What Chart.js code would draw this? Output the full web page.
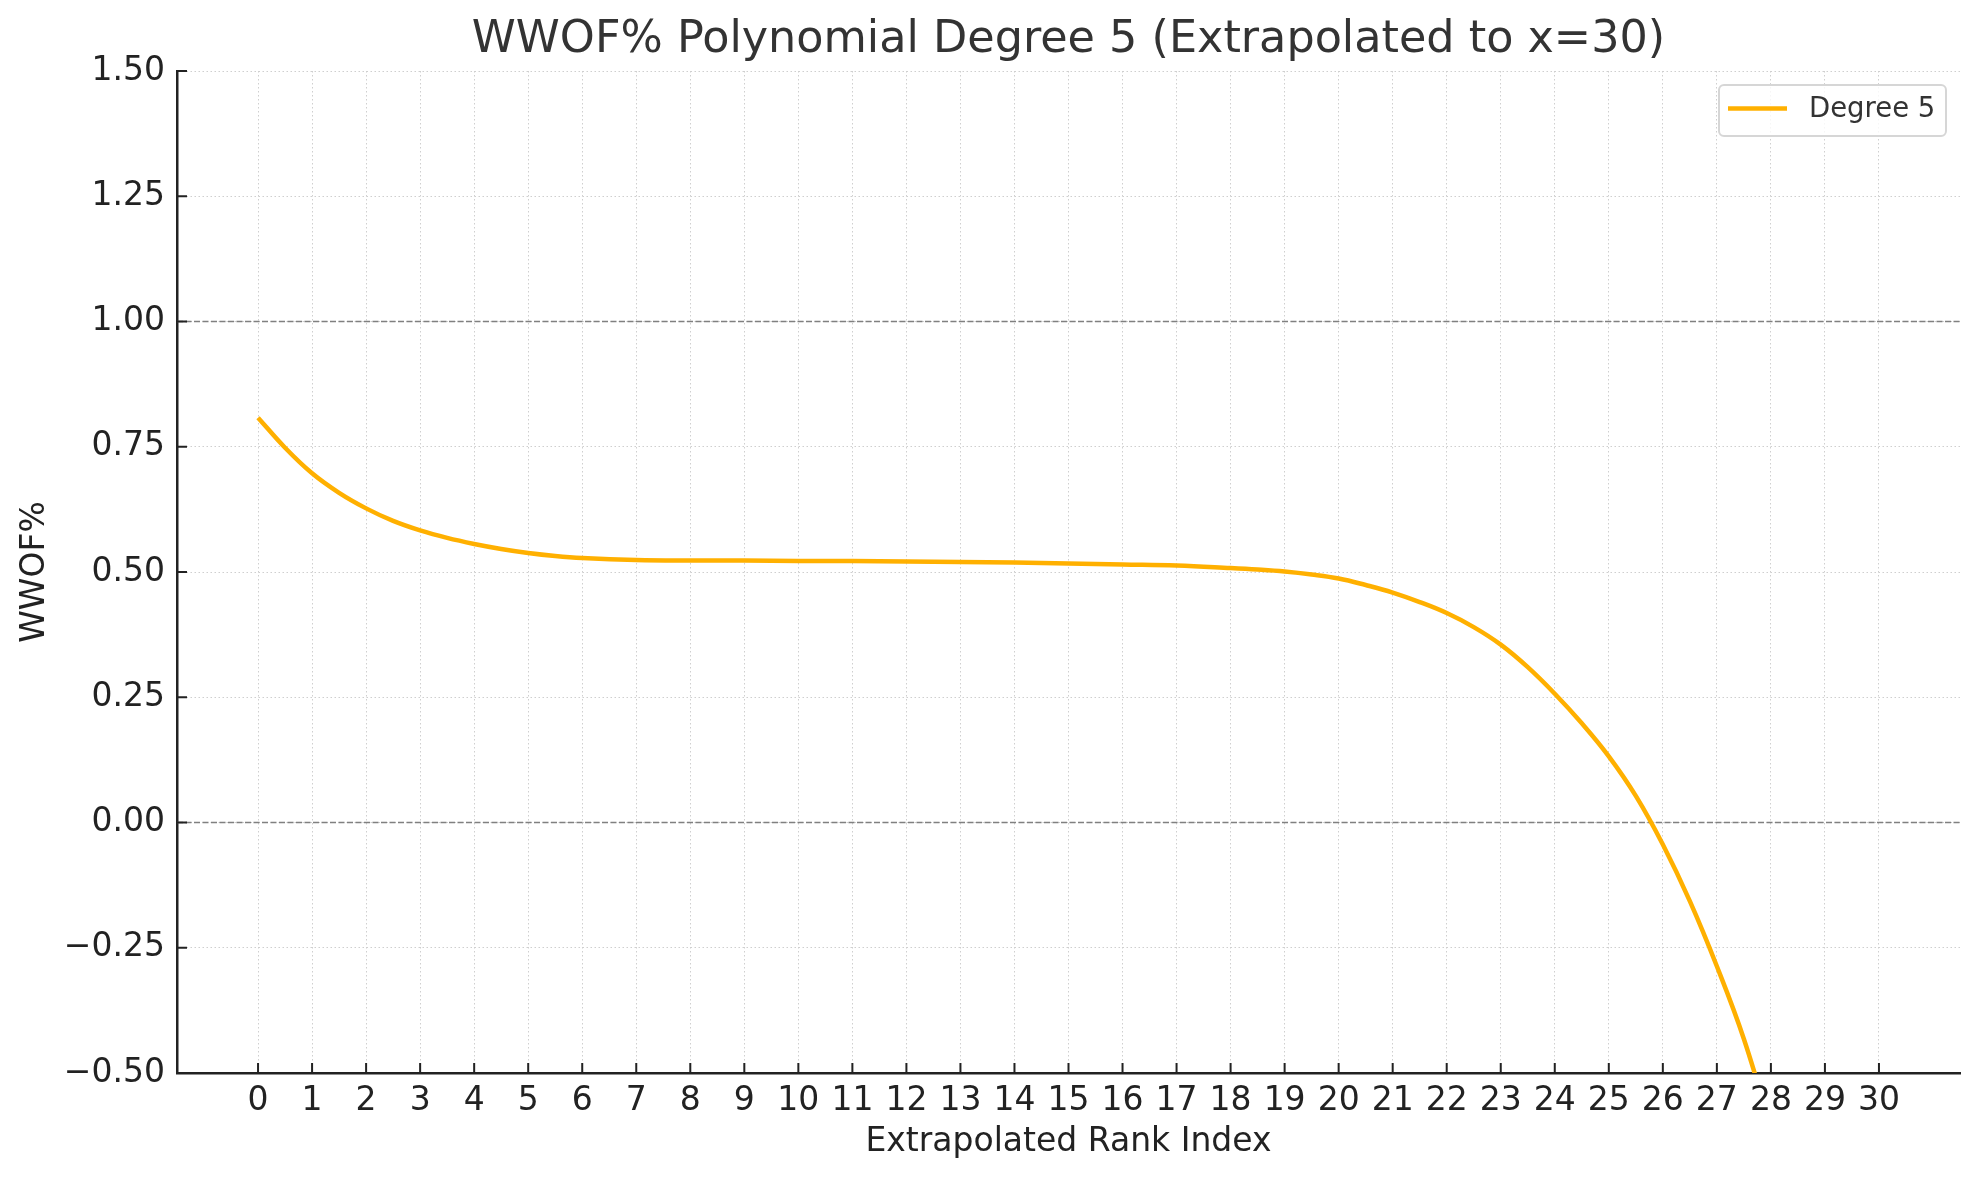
<!DOCTYPE html>
<html>
<head>
<meta charset="utf-8">
<title>WWOF% Polynomial Degree 5</title>
<script src="https://cdn.jsdelivr.net/npm/chart.js@4.4.1/dist/chart.umd.min.js"></script>
<style>
  html, body { margin: 0; padding: 0; background: #fff; }
  #wrap { width: 1979px; height: 1180px; }
</style>
</head>
<body>
<div id="wrap"><canvas id="chart" width="1979" height="1180"></canvas></div>
<script>
// values
const rankIndex = [0, 0.5, 1, 1.5, 2, 2.5, 3, 3.5, 4, 4.5, 5, 5.5, 6, 7, 8, 9, 10, 11, 12, 13, 14, 15, 16, 17,
  18, 18.5, 19, 19.5, 20, 20.5, 21, 21.5, 22, 22.5, 23, 23.5, 24, 24.5, 25, 25.5, 26, 26.5, 27, 27.5, 28];
const wwofDegree5 = [0.808, 0.748, 0.697, 0.658, 0.627, 0.602, 0.583, 0.568, 0.556, 0.546, 0.538, 0.532, 0.528,
  0.524, 0.523, 0.523, 0.522, 0.522, 0.521, 0.520, 0.519, 0.517, 0.515, 0.513,
  0.508, 0.505, 0.501, 0.495, 0.487, 0.474, 0.459, 0.440, 0.418, 0.390, 0.355, 0.310,
  0.257, 0.198, 0.132, 0.053, -0.044, -0.157, -0.287, -0.432, -0.610];
const refLevels = [1.0, 0.0];
const xTicks = [0, 1, 2, 3, 4, 5, 6, 7, 8, 9, 10, 11, 12, 13, 14, 15, 16, 17, 18, 19, 20,
  21, 22, 23, 24, 25, 26, 27, 28, 29, 30];
const yTicks = [-0.5, -0.25, 0, 0.25, 0.5, 0.75, 1.0, 1.25, 1.5];
const xRange = [-1.5, 31.5];
const yRange = [-0.5, 1.5];

const TITLE = 'WWOF% Polynomial Degree 5 (Extrapolated to x=30)';
const SERIES = 'Degree 5';
const FONT = "'DejaVu Sans', sans-serif";
const LINE_COLOR = '#ffb000';
const INK = '#222';

const curve = rankIndex.map((x, i) => ({ x, y: wwofDegree5[i] }));

const refSets = refLevels.map(v => ({
  label: 'ref ' + v,
  data: xRange.map(x => ({ x, y: v })),
  borderColor: '#808080',
  borderWidth: 1.6,
  borderDash: [6, 2.5],
  pointRadius: 0,
  fill: false,
  clip: 0
}));

// matplotlib style ticks pointing into the plot
const innerTicks = {
  id: 'innerTicks',
  afterDatasetsDraw(chart) {
    const { ctx, chartArea, scales } = chart;
    ctx.save();
    ctx.strokeStyle = INK;
    ctx.lineWidth = 2;
    ctx.beginPath();
    scales.x.ticks.forEach(t => {
      const px = scales.x.getPixelForValue(t.value);
      ctx.moveTo(px, chartArea.bottom);
      ctx.lineTo(px, chartArea.bottom - 10);
    });
    scales.y.ticks.forEach(t => {
      const py = scales.y.getPixelForValue(t.value);
      ctx.moveTo(chartArea.left, py);
      ctx.lineTo(chartArea.left + 10, py);
    });
    ctx.stroke();
    ctx.restore();
  }
};

// title centred over the axes, legend box in the upper right corner
const frameText = {
  id: 'frameText',
  afterDraw(chart) {
    const { ctx, chartArea } = chart;
    ctx.save();
    ctx.fillStyle = '#333';
    ctx.font = '44.5px ' + FONT;
    ctx.textAlign = 'center';
    ctx.textBaseline = 'middle';
    ctx.fillText(TITLE, (chartArea.left + chartArea.right) / 2, 40);

    const bx = chartArea.right - 241, by = chartArea.top + 14, bw = 227, bh = 51;
    ctx.fillStyle = 'rgba(255,255,255,0.8)';
    ctx.strokeStyle = '#d6d6d6';
    ctx.lineWidth = 2;
    ctx.beginPath();
    ctx.roundRect(bx, by, bw, bh, 5);
    ctx.fill();
    ctx.stroke();

    const cy = by + bh / 2 - 2;
    ctx.strokeStyle = LINE_COLOR;
    ctx.lineWidth = 4.5;
    ctx.beginPath();
    ctx.moveTo(bx + 9, cy);
    ctx.lineTo(bx + 68, cy);
    ctx.stroke();

    ctx.fillStyle = '#333';
    ctx.font = '27.5px ' + FONT;
    ctx.textAlign = 'left';
    ctx.fillText(SERIES, bx + 90, cy + 1);
    ctx.restore();
  }
};

new Chart(document.getElementById('chart'), {
  type: 'line',
  data: {
    datasets: [{
      label: SERIES,
      data: curve,
      borderColor: LINE_COLOR,
      backgroundColor: LINE_COLOR,
      borderWidth: 4.5,
      pointRadius: 0,
      tension: 0.4,
      fill: false,
      clip: 0
    }, ...refSets]
  },
  options: {
    responsive: false,
    devicePixelRatio: 1,
    animation: false,
    layout: { padding: { left: 0, right: 19, top: 71, bottom: 0 } },
    plugins: {
      tooltip: { enabled: false },
      title: { display: false },
      legend: { display: false }
    },
    scales: {
      x: {
        type: 'linear',
        min: xRange[0],
        max: xRange[1],
        afterFit: s => { s.height = 107; },
        afterBuildTicks: s => { s.ticks = xTicks.map(v => ({ value: v })); },
        ticks: {
          autoSkip: false,
          maxRotation: 0,
          padding: 9,
          color: INK,
          font: { family: FONT, size: 33 },
          callback: v => String(v)
        },
        grid: { color: '#cfcfcf', lineWidth: 1, drawTicks: false },
        border: { color: INK, width: 2.5, dash: [1.5, 2.5] },
        title: {
          display: true,
          text: 'Extrapolated Rank Index',
          color: INK,
          font: { family: FONT, size: 33 },
          padding: { top: 0, bottom: 18 }
        }
      },
      y: {
        type: 'linear',
        min: yRange[0],
        max: yRange[1],
        afterFit: s => { s.width = 177; },
        afterBuildTicks: s => { s.ticks = yTicks.map(v => ({ value: v })); },
        ticks: {
          padding: 12,
          color: INK,
          font: { family: FONT, size: 33 },
          callback: v => v.toFixed(2).replace('-', '\u2212')
        },
        grid: { color: '#cfcfcf', lineWidth: 1, drawTicks: false },
        border: { color: INK, width: 2.5, dash: [1.5, 2.5] },
        title: {
          display: true,
          text: 'WWOF%',
          color: INK,
          font: { family: FONT, size: 33 },
          padding: { top: 16, bottom: 0 }
        }
      }
    }
  },
  plugins: [innerTicks, frameText]
});
</script>
</body>
</html>
